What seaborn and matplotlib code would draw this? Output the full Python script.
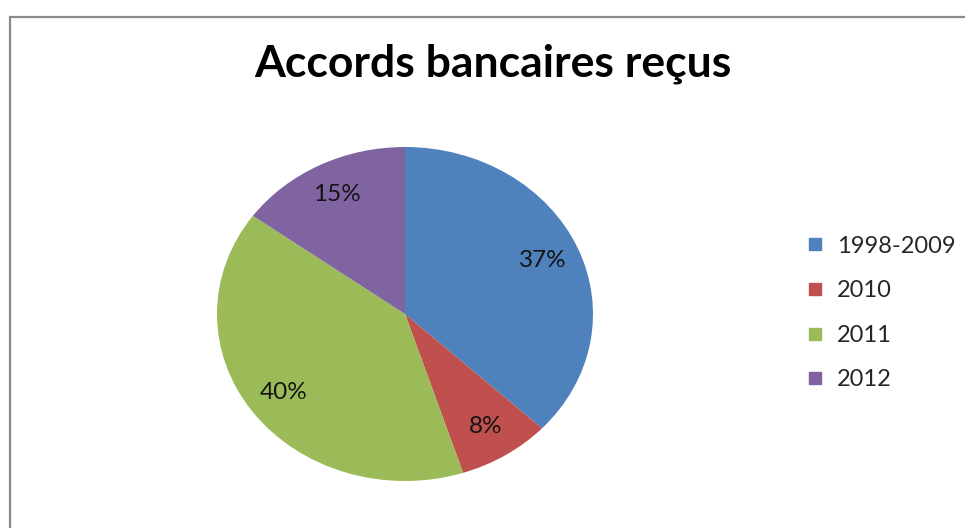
import matplotlib
matplotlib.use("Agg")
import matplotlib.pyplot as plt
from matplotlib.lines import Line2D
from matplotlib.patches import Rectangle
import seaborn as sns

# Bank agreements received, share per period
periods = ["1998-2009", "2010", "2011", "2012"]
shares = [37, 8, 40, 15]
colors = ["#4F81BD", "#C0504D", "#9BBB59", "#8064A2"]

sns.set_theme(style="white")
plt.rcParams["font.family"] = ["Lato", "DejaVu Sans"]

W, H = 965, 528
fig = plt.figure(figsize=(W / 100, H / 100), dpi=100)
fig.patch.set_facecolor("white")

# Chart frame (left and top edges visible, right/bottom run off the canvas)
fig.patches.append(Rectangle((10 / W, -0.05), 1.1, (H - 17) / H + 0.05,
                             transform=fig.transFigure, fill=False,
                             edgecolor="#8a8a8a", linewidth=1.6, zorder=0))

# Pie drawn in an axes wider than tall, giving the oval shape
ax = fig.add_axes([217 / W, (H - 481) / H, 376 / W, 334 / H])
wedges, texts, autotexts = ax.pie(
    shares, colors=colors, startangle=90, counterclock=False,
    autopct=lambda p: f"{p:.0f}%", pctdistance=0.80,
    wedgeprops=dict(linewidth=0), textprops=dict(fontsize=17.5, color="#141414"))
ax.set_aspect("auto")
ax.set_xlim(-1, 1)
ax.set_ylim(-1, 1)
ax.axis("off")

fig.text(493 / W, 1 - 64 / H, "Accords bancaires reçus", ha="center", va="center",
         fontsize=32, fontweight="bold", color="black")

handles = [Line2D([0], [0], marker="s", linestyle="none", markersize=8,
                  markerfacecolor=c, markeredgecolor=c) for c in colors]
fig.legend(handles, periods, loc="center left", bbox_to_anchor=(806 / W, 1 - 313 / H),
           frameon=False, fontsize=17, handlelength=0.8, handletextpad=0.5,
           labelspacing=1.0, borderpad=0, borderaxespad=0)

fig.savefig("out.png", dpi=100, facecolor="white")
